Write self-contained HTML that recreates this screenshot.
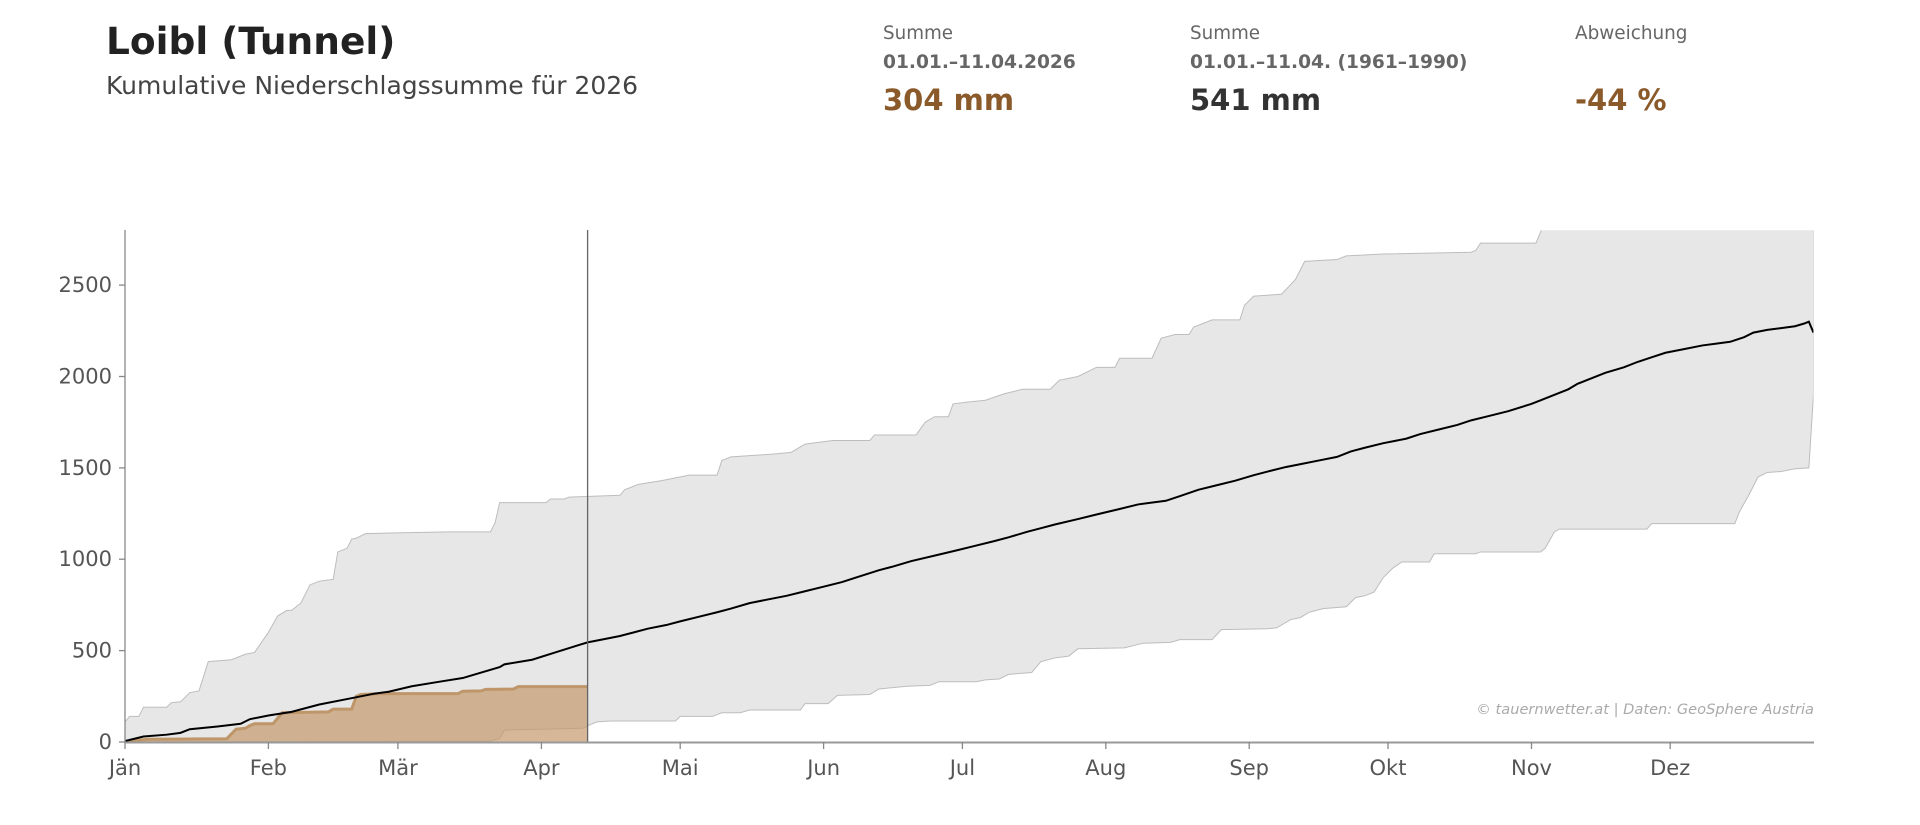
<!DOCTYPE html>
<html><head><meta charset="utf-8"><style>
html,body{margin:0;padding:0;background:#fff;width:1920px;height:825px;overflow:hidden;font-family:"DejaVu Sans","Liberation Sans",sans-serif}
.t{position:absolute;white-space:nowrap}
</style></head><body>
<div class="t" style="left:106px;top:19px;font-size:37.5px;font-weight:bold;color:#222">Loibl (Tunnel)</div>
<div class="t" style="left:106px;top:71px;font-size:25px;color:#444">Kumulative Niederschlagssumme für 2026</div>

<div class="t" style="left:883px;top:23px;font-size:18.3px;color:#666">Summe</div>
<div class="t" style="left:883px;top:52px;font-size:18.6px;font-weight:bold;color:#666">01.01.–11.04.2026</div>
<div class="t" style="left:883px;top:83px;font-size:29px;font-weight:bold;color:#8b5a2b">304 mm</div>

<div class="t" style="left:1190px;top:23px;font-size:18.3px;color:#666">Summe</div>
<div class="t" style="left:1190px;top:52px;font-size:18.6px;font-weight:bold;color:#666">01.01.–11.04. (1961–1990)</div>
<div class="t" style="left:1190px;top:83px;font-size:29px;font-weight:bold;color:#333">541 mm</div>

<div class="t" style="left:1575px;top:23px;font-size:18.4px;color:#666">Abweichung</div>
<div class="t" style="left:1575px;top:83px;font-size:29px;font-weight:bold;color:#8b5a2b">-44 %</div>

<svg width="1920" height="825" style="position:absolute;left:0;top:0">
<defs><clipPath id="c"><rect x="0" y="0" width="365" height="2800"/></clipPath></defs>
<g transform="translate(125,742) scale(4.626,-0.18275)">
<g clip-path="url(#c)">
<polygon fill="#e7e7e7" stroke="#bdbdbd" stroke-width="1" vector-effect="non-scaling-stroke" points="
0,110 1,140 3,140 4,190 9,190 10,215 12,220 14,270 16,280 18,440 23,450 26,480 28,490 31,600 33,690 35,720 36,720 38,760 40,860 42,880 45,890 46,1040 48,1060 49,1110 50,1115 52,1140 60,1145 70,1150 79,1150 80,1200 81,1310 91,1310 92,1330 95,1330 96,1340 107,1350 108,1380 111,1410 116,1430 122,1460 128,1460 129,1540 131,1560 140,1575 144,1585 147,1630 153,1650 161,1650 162,1680 171,1680 173,1750 175,1780 178,1780 179,1850 182,1860 186,1870 190,1905 194,1930 200,1930 202,1980 206,2000 210,2050 214,2050 215,2100 222,2100 224,2210 227,2230 230,2230 231,2270 235,2310 241,2310 242,2390 244,2440 250,2450 253,2530 255,2630 262,2640 264,2660 272,2670 291,2680 292,2690 293,2730 305,2730 307,2850 365,2850
365,1900 364,1500 361,1495 358,1480 355,1475 353,1450 351,1350 349,1260 348,1195 330,1195 329,1165 310,1165 309,1150 307,1060 306,1040 293,1040 292,1030 283,1030 282,985 276,985 274,950 272,900 270,820 268,800 266,790 264,740 259,730 256,710 254,680 252,670 249,625 247,620 237,615 235,560 228,560 226,545 220,540 216,515 206,510 204,470 201,460 198,440 196,380 191,370 189,345 186,340 184,330 176,330 174,310 169,305 163,290 161,260 154,255 152,210 147,210 146,175 135,175 133,160 129,160 127,140 120,140 119,115 105,115 102,110 101,100 99,75 96,73 90,70 85,68 82,65 81,20 79,5 0,0"/>
<polygon fill="#c49a6c" fill-opacity="0.7" stroke="none" points="0,0 0,5 3,10 5,15 22,18 24,70 26,75 27,90 28,100 32,100 33,130 34,160 44,165 45,180 49,180 50,250 51,260 55,265 72,265 73,278 77,280 78,288 84,290 85,303 100,303 100,0"/>
<polyline fill="none" stroke="#be966a" stroke-width="3" vector-effect="non-scaling-stroke" points="0,0 0,5 3,10 5,15 22,18 24,70 26,75 27,90 28,100 32,100 33,130 34,160 44,165 45,180 49,180 50,250 51,260 55,265 72,265 73,278 77,280 78,288 84,290 85,303 100,303"/>
<polyline fill="none" stroke="#000" stroke-width="2" vector-effect="non-scaling-stroke" points="0,5 4,30 9,40 12,50 14,70 20,85 25,100 27,125 31,145 36,165 42,205 48,235 54,265 57,275 62,305 68,330 73,350 77,380 81,410 82,425 88,450 93,490 98,530 100,545 104,565 107,580 110,600 113,620 117,640 120,660 124,685 128,710 131,730 135,760 139,780 143,800 147,825 151,850 155,875 158,900 163,940 166,960 170,990 175,1020 180,1050 184,1075 188,1100 191,1120 195,1150 198,1170 201,1190 206,1220 210,1245 215,1275 219,1300 225,1320 228,1345 232,1380 236,1405 240,1430 244,1460 247,1480 251,1505 254,1520 258,1540 262,1560 265,1590 268,1610 272,1635 277,1660 280,1685 284,1710 288,1735 291,1760 295,1785 299,1810 304,1850 306,1870 309,1900 312,1930 314,1960 317,1990 320,2020 324,2050 327,2080 330,2105 333,2130 337,2150 341,2170 344,2180 347,2190 350,2215 352,2240 355,2255 358,2265 361,2275 363,2290 364,2300 365,2240"/>
</g>
</g>
<line x1="587.6" y1="230" x2="587.6" y2="742" stroke="#666" stroke-width="1.3"/>
<line x1="125" y1="230" x2="125" y2="742" stroke="#888" stroke-width="1.3"/>
<line x1="125" y1="742.5" x2="1814" y2="742.5" stroke="#999" stroke-width="2"/>
<g stroke="#888" stroke-width="1.3">
<line x1="119" y1="742" x2="125" y2="742"/><line x1="119" y1="650.6" x2="125" y2="650.6"/><line x1="119" y1="559.2" x2="125" y2="559.2"/><line x1="119" y1="467.9" x2="125" y2="467.9"/><line x1="119" y1="376.5" x2="125" y2="376.5"/><line x1="119" y1="285.1" x2="125" y2="285.1"/>
<line x1="125" y1="742" x2="125" y2="749"/><line x1="268.4" y1="742" x2="268.4" y2="749"/><line x1="397.9" y1="742" x2="397.9" y2="749"/><line x1="541.4" y1="742" x2="541.4" y2="749"/><line x1="680.2" y1="742" x2="680.2" y2="749"/><line x1="823.6" y1="742" x2="823.6" y2="749"/><line x1="962.4" y1="742" x2="962.4" y2="749"/><line x1="1105.8" y1="742" x2="1105.8" y2="749"/><line x1="1249.2" y1="742" x2="1249.2" y2="749"/><line x1="1388" y1="742" x2="1388" y2="749"/><line x1="1531.5" y1="742" x2="1531.5" y2="749"/><line x1="1670.2" y1="742" x2="1670.2" y2="749"/>
</g>
<g font-family="DejaVu Sans, Liberation Sans, sans-serif" font-size="21" fill="#555" text-anchor="end">
<text x="112" y="749">0</text><text x="112" y="657.6">500</text><text x="112" y="566.2">1000</text><text x="112" y="474.9">1500</text><text x="112" y="383.5">2000</text><text x="112" y="292.1">2500</text>
</g>
<g font-family="DejaVu Sans, Liberation Sans, sans-serif" font-size="21" fill="#555" text-anchor="middle">
<text x="125" y="775">Jän</text><text x="268.4" y="775">Feb</text><text x="397.9" y="775">Mär</text><text x="541.4" y="775">Apr</text><text x="680.2" y="775">Mai</text><text x="823.6" y="775">Jun</text><text x="962.4" y="775">Jul</text><text x="1105.8" y="775">Aug</text><text x="1249.2" y="775">Sep</text><text x="1388" y="775">Okt</text><text x="1531.5" y="775">Nov</text><text x="1670.2" y="775">Dez</text>
</g>
<text x="1814" y="714" text-anchor="end" font-family="DejaVu Sans, sans-serif" font-size="14.6" font-style="italic" fill="#aaa">© tauernwetter.at | Daten: GeoSphere Austria</text>
</svg>
</body></html>
